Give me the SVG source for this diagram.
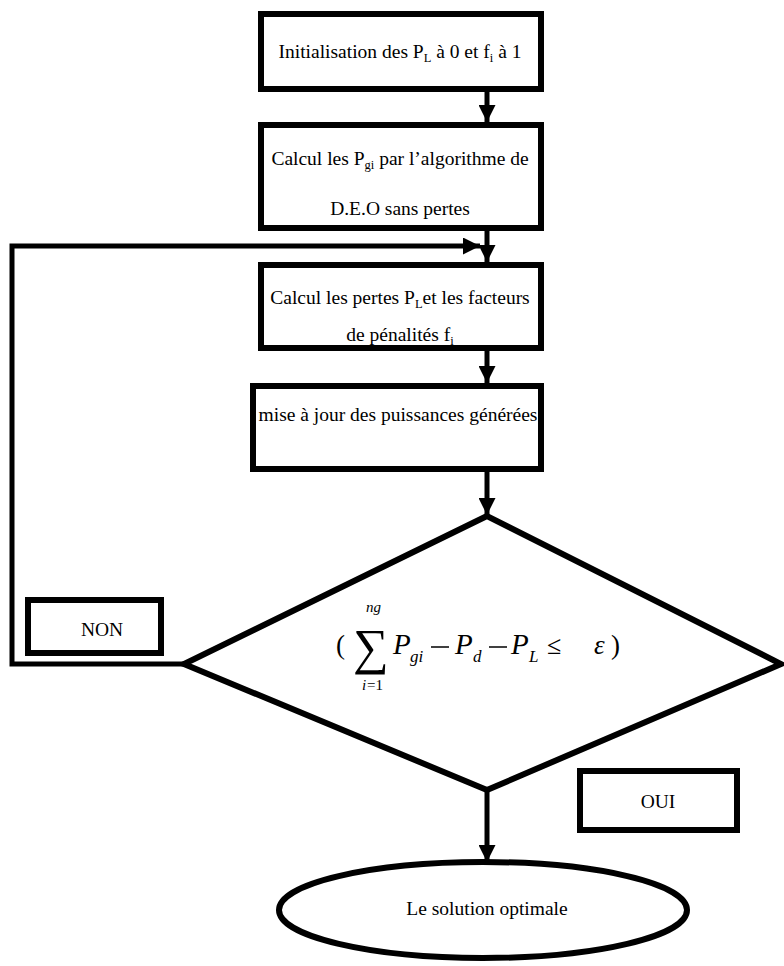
<svg xmlns="http://www.w3.org/2000/svg" width="784" height="966" viewBox="0 0 784 966">
  <defs>
    <marker id="arrow" viewBox="0 0 10 10" refX="10" refY="5" markerWidth="3.4" markerHeight="3.4" orient="auto" markerUnits="strokeWidth">
      <path d="M0,0 L10,5 L0,10 Z" fill="#000"/>
    </marker>
    <style>
      .box { fill: #fff; stroke: #000; stroke-width: 6; }
      .conn { fill: none; stroke: #000; stroke-width: 5; }
      .txt { font-family: "Liberation Serif", "Times New Roman", serif; font-size: 19.5px; fill: #000; }
      .math { font-family: "Liberation Serif", "Times New Roman", serif; font-style: italic; fill: #000; }
      .up { font-family: "Liberation Serif", "Times New Roman", serif; fill: #000; }
    </style>
  </defs>

  <rect width="784" height="966" fill="#fff"/>

  <!-- connectors -->
  <g id="connectors">
    <line class="conn" x1="487" y1="90" x2="487" y2="122" marker-end="url(#arrow)"/>
    <line class="conn" x1="487" y1="228" x2="487" y2="262" marker-end="url(#arrow)"/>
    <polyline class="conn" points="190,664 12,664 12,246 480,246" marker-end="url(#arrow)"/>
    <line class="conn" x1="487" y1="350" x2="487" y2="383" marker-end="url(#arrow)"/>
    <line class="conn" x1="487" y1="470" x2="487" y2="515" marker-end="url(#arrow)"/>
    <line class="conn" x1="487" y1="790" x2="487" y2="862" marker-end="url(#arrow)"/>
  </g>

  <!-- initialisation -->
  <g id="init">
    <rect class="box" x="261" y="14" width="280" height="75"/>
    <text class="txt" x="400" y="58" text-anchor="middle">Initialisation des P<tspan font-size="12.5" dy="4">L</tspan><tspan dy="-4"> à 0 et f</tspan><tspan font-size="12.5" dy="4">i</tspan><tspan dy="-4"> à 1</tspan></text>
  </g>

  <!-- economic dispatch without losses -->
  <g id="deo">
    <rect class="box" x="261" y="125" width="280" height="103"/>
    <text class="txt" x="400" y="165" text-anchor="middle">Calcul les P<tspan font-size="12.5" dy="4">gi</tspan><tspan dy="-4"> par l’algorithme de</tspan></text>
    <text class="txt" x="400" y="215" text-anchor="middle">D.E.O sans pertes</text>
  </g>

  <!-- losses and penalty factors -->
  <g id="pertes">
    <rect class="box" x="261" y="265" width="280" height="83"/>
    <text class="txt" x="400" y="304" text-anchor="middle">Calcul les pertes P<tspan font-size="12.5" dy="4">L</tspan><tspan dy="-4">et les facteurs</tspan></text>
    <text class="txt" x="400" y="341" text-anchor="middle">de pénalités  f<tspan font-size="12.5" dy="4">i</tspan></text>
  </g>

  <!-- update generated powers -->
  <g id="maj">
    <rect class="box" x="253" y="386" width="288" height="83"/>
    <text class="txt" x="398" y="421" text-anchor="middle">mise à jour des puissances générées</text>
  </g>

  <!-- convergence test -->
  <g id="test">
    <polygon class="box" points="487,516 184,664 487,790 781,664" stroke-linejoin="miter"/>
    <text class="up" x="336" y="654" font-size="27">(</text>
    <text class="up" x="353" y="664" font-size="50">∑</text>
    <text class="math" x="366" y="612" font-size="15">ng</text>
    <text class="math" x="362" y="690" font-size="15">i</text>
    <text class="up" x="367" y="690" font-size="15">=1</text>
    <text class="math" x="393" y="654" font-size="29">P</text>
    <text class="math" x="410" y="662" font-size="17">gi</text>
    <line x1="431" y1="647" x2="449" y2="647" stroke="#000" stroke-width="1.5"/>
    <text class="math" x="455" y="654" font-size="29">P</text>
    <text class="math" x="473" y="662" font-size="17">d</text>
    <line x1="489" y1="647" x2="507" y2="647" stroke="#000" stroke-width="1.5"/>
    <text class="math" x="511" y="654" font-size="29">P</text>
    <text class="math" x="529" y="662" font-size="17">L</text>
    <text class="up" x="547" y="654" font-size="26">≤</text>
    <text class="math" x="594" y="654" font-size="27">ε</text>
    <text class="up" x="611" y="654" font-size="27">)</text>
  </g>

  <!-- branch labels -->
  <g id="non">
    <rect class="box" x="28" y="600" width="133" height="53"/>
    <text class="txt" x="102" y="636" text-anchor="middle">NON</text>
  </g>
  <g id="oui">
    <rect class="box" x="580" y="771" width="157" height="59"/>
    <text class="txt" x="658" y="808" text-anchor="middle">OUI</text>
  </g>

  <!-- result -->
  <g id="solution">
    <ellipse class="box" cx="483" cy="910" rx="204" ry="48"/>
    <text class="txt" x="487" y="915" text-anchor="middle">Le solution optimale</text>
  </g>
</svg>
